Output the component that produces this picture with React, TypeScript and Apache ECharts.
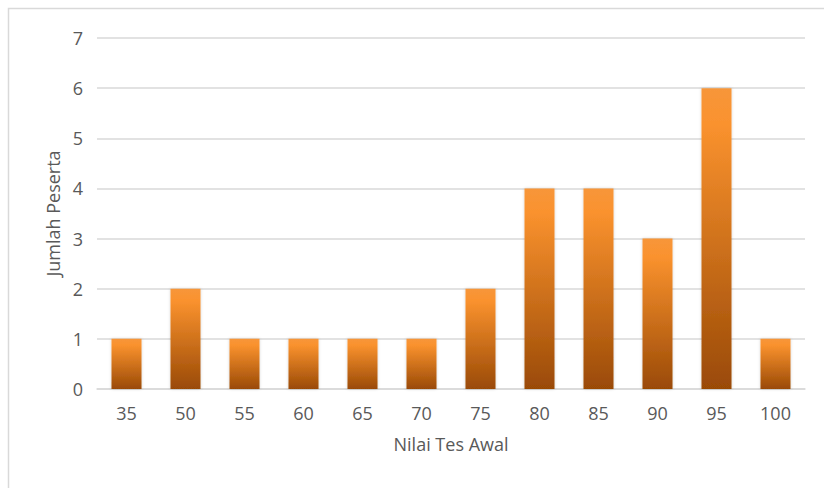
import React, { useEffect, useRef } from "react";
import * as echarts from "echarts";

const categories = ["35", "50", "55", "60", "65", "70", "75", "80", "85", "90", "95", "100"];
const counts = [1, 2, 1, 1, 1, 1, 2, 4, 4, 3, 6, 1];
const xAxisTitle = "Nilai Tes Awal";
const yAxisTitle = "Jumlah Peserta";

export default function App() {
  const ref = useRef<HTMLDivElement>(null);
  useEffect(() => {
    if (!ref.current) return;
    const chart = echarts.init(ref.current, undefined, { renderer: "svg" });
    const font = "'Open Sans', 'Noto Sans', sans-serif";
    const txt = { color: "#595959", fontSize: 18, fontFamily: font };
    chart.setOption({
      animation: false,
      backgroundColor: "#ffffff",
      textStyle: { fontFamily: font },
      graphic: [
        {
          type: "rect",
          shape: { x: 8.5, y: 8.5, width: 840, height: 520 },
          style: { fill: "none", stroke: "#D9D9D9", lineWidth: 1.5 },
          silent: true,
          z: -10,
        },
      ],
      grid: { left: 97, right: 19, top: 38, bottom: 99, containLabel: false },
      xAxis: {
        type: "category",
        data: categories,
        name: xAxisTitle,
        nameLocation: "middle",
        nameGap: 46,
        nameTextStyle: txt,
        axisLine: { show: true, lineStyle: { color: "#D9D9D9", width: 1.5 } },
        axisTick: { show: false },
        axisLabel: { ...txt, margin: 15 },
      },
      yAxis: {
        type: "value",
        min: 0,
        max: 7,
        interval: 1,
        name: yAxisTitle,
        nameLocation: "middle",
        nameGap: 34,
        nameTextStyle: txt,
        axisLine: { show: false },
        axisTick: { show: false },
        axisLabel: { ...txt, margin: 14 },
        splitLine: { lineStyle: { color: "#D9D9D9", width: 1.5 } },
      },
      series: [
        {
          type: "bar",
          data: counts,
          barWidth: 30,
          itemStyle: {
            color: new echarts.graphic.LinearGradient(0, 0, 0, 1, [
              { offset: 0, color: "#F7963A" },
              { offset: 0.12, color: "#FA922E" },
              { offset: 1, color: "#9A4A06" },
            ]),
            shadowColor: "rgba(0,0,0,0.18)",
            shadowBlur: 3,
          },
        },
      ],
    });
    return () => chart.dispose();
  }, []);
  return (
    <div
      ref={ref}
      style={{ position: "absolute", left: 0, top: 0, width: 824, height: 488 }}
    />
  );
}
